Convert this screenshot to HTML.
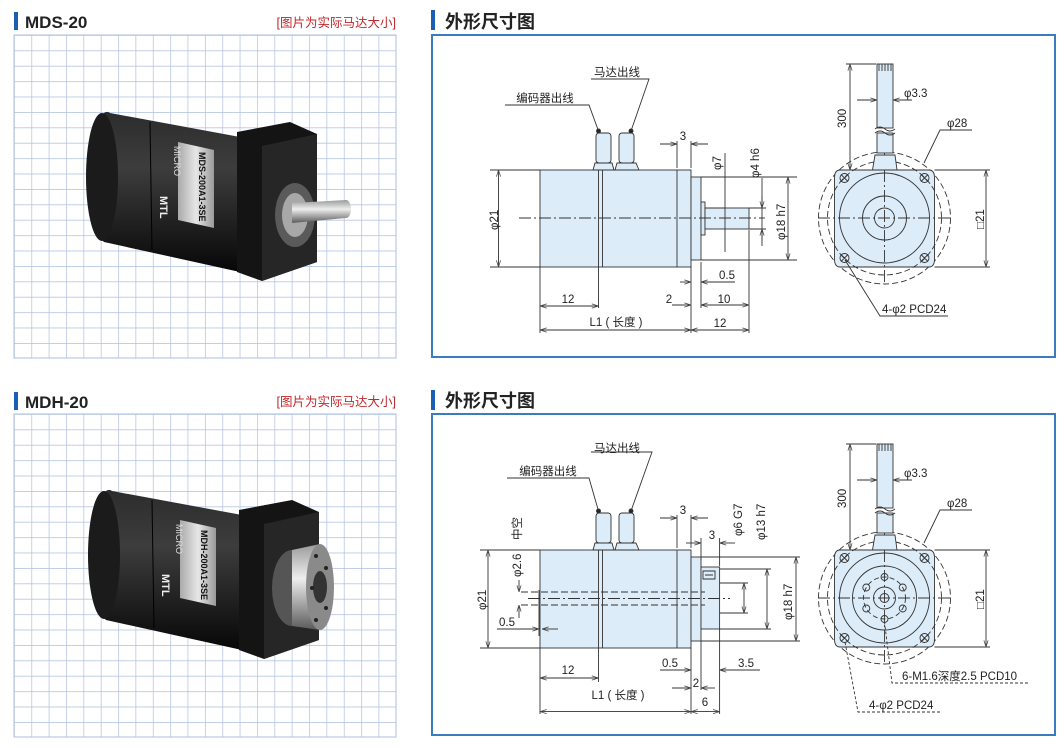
<!DOCTYPE html>
<html><head><meta charset="utf-8"><style>
html,body{margin:0;padding:0;background:#fff;}
svg{display:block;font-family:"Liberation Sans","Noto Sans CJK SC",sans-serif;}
</style></head><body>
<svg width="1064" height="748" viewBox="0 0 1064 748" xmlns="http://www.w3.org/2000/svg">
<defs>
<marker id="a" viewBox="0 0 8 6" refX="8" refY="3" markerWidth="7" markerHeight="5" orient="auto-start-reverse" markerUnits="userSpaceOnUse"><path d="M0,0.5 L8,3 L0,5.5" fill="none" stroke="#444" stroke-width="0.9"/></marker>
<pattern id="grid" x="14" y="35" width="17.36" height="15.4" patternUnits="userSpaceOnUse"><path d="M0,0 H17.36 M0,0 V15.4" stroke="#aebfe0" stroke-width="1.4" fill="none"/></pattern>
<pattern id="grid2" x="14" y="414" width="17.36" height="15.4" patternUnits="userSpaceOnUse"><path d="M0,0 H17.36 M0,0 V15.4" stroke="#aebfe0" stroke-width="1.4" fill="none"/></pattern>
<linearGradient id="blk" x1="0" y1="0" x2="0" y2="1"><stop offset="0" stop-color="#2c2c2c"/><stop offset="0.35" stop-color="#3d3d3d"/><stop offset="1" stop-color="#070707"/></linearGradient>
<linearGradient id="sil" x1="0" y1="0" x2="0" y2="1"><stop offset="0" stop-color="#9a9a9a"/><stop offset="0.4" stop-color="#eeeeee"/><stop offset="1" stop-color="#5a5a5a"/></linearGradient>
<linearGradient id="lab" x1="0" y1="0" x2="1" y2="0"><stop offset="0" stop-color="#aaa"/><stop offset="0.5" stop-color="#e6e6e6"/><stop offset="1" stop-color="#999"/></linearGradient>
</defs>

<rect x="14" y="12" width="4" height="18" fill="#1a5fb4"/>
<text x="25" y="28" font-size="17" font-weight="bold" fill="#222">MDS-20</text>
<text x="396" y="27" font-size="12.5" fill="#c0282d" text-anchor="end">[图片为实际马达大小]</text>
<rect x="14" y="35" width="382" height="323" fill="url(#grid)" stroke="#aebfe0"/>

<rect x="14" y="392" width="4" height="18" fill="#1a5fb4"/>
<text x="25" y="408" font-size="17" font-weight="bold" fill="#222">MDH-20</text>
<text x="396" y="406" font-size="12.5" fill="#c0282d" text-anchor="end">[图片为实际马达大小]</text>
<rect x="14" y="414" width="382" height="323" fill="url(#grid2)" stroke="#aebfe0"/>

<g>
<path d="M110,113 L240,137 L240,272 L104,242 A16,65 0 0 1 110,113 Z" fill="url(#blk)"/>
<ellipse cx="102" cy="177" rx="16" ry="64" fill="#1b1b1b"/>
<path d="M150,122 L152,250" stroke="#000" stroke-width="1"/>
<path d="M178,142 L214,150 L214,228 L178,220 Z" fill="url(#lab)"/>
<text transform="translate(199,152) rotate(90)" font-size="9" font-weight="bold" fill="#111">MDS-200A1-3SE</text>
<text transform="translate(174,146) rotate(90)" font-size="9" fill="#ddd">MICRO</text>
<text transform="translate(160,196) rotate(90)" font-size="11" font-weight="bold" fill="#eee">MTL</text>
<path d="M237,132 L290,122 L317,134 L317,262 L262,281 L237,272 Z" fill="#141414"/>
<path d="M262,146 L317,134 L317,262 L262,281 Z" fill="#262626"/>
<ellipse cx="295" cy="215" rx="20" ry="32" fill="#5a5a5a"/>
<ellipse cx="295" cy="215" rx="13" ry="22" fill="#a8a8a8"/>
<path d="M292,203 L346,200 A5,9 0 0 1 346,218 L292,223 Z" fill="url(#sil)"/>
</g>
<g transform="translate(2,378)">
<path d="M110,113 L240,137 L240,272 L104,242 A16,65 0 0 1 110,113 Z" fill="url(#blk)"/>
<ellipse cx="102" cy="177" rx="16" ry="64" fill="#1b1b1b"/>
<path d="M150,122 L152,250" stroke="#000" stroke-width="1"/>
<path d="M178,142 L214,150 L214,228 L178,220 Z" fill="url(#lab)"/>
<text transform="translate(199,152) rotate(90)" font-size="9" font-weight="bold" fill="#111">MDH-200A1-3SE</text>
<text transform="translate(174,146) rotate(90)" font-size="9" fill="#ddd">MICRO</text>
<text transform="translate(160,196) rotate(90)" font-size="11" font-weight="bold" fill="#eee">MTL</text>
<path d="M237,132 L290,122 L317,134 L317,262 L262,281 L237,272 Z" fill="#141414"/>
<path d="M262,146 L317,134 L317,262 L262,281 Z" fill="#262626"/>
<ellipse cx="290" cy="210" rx="20" ry="38" fill="#555"/>
<path d="M290,172 L318,166 L318,252 L290,248 Z" fill="url(#sil)"/>
<ellipse cx="318" cy="209" rx="14" ry="43" fill="#8a8a8a"/>
<ellipse cx="318" cy="209" rx="7" ry="16" fill="#333"/>
<circle cx="314" cy="178" r="2" fill="#222"/><circle cx="324" cy="190" r="2" fill="#222"/><circle cx="324" cy="230" r="2" fill="#222"/><circle cx="314" cy="242" r="2" fill="#222"/><circle cx="310" cy="210" r="2" fill="#222"/>
</g>

<rect x="431" y="10" width="4" height="20" fill="#1a5fb4"/>
<text x="445" y="28" font-size="18" font-weight="bold" fill="#222">外形尺寸图</text>
<rect x="432" y="35" width="623" height="322" fill="#fff" stroke="#3a7cc0" stroke-width="2"/>
<rect x="431" y="390" width="4" height="20" fill="#1a5fb4"/>
<text x="445" y="407" font-size="18" font-weight="bold" fill="#222">外形尺寸图</text>
<rect x="432" y="414" width="623" height="321" fill="#fff" stroke="#3a7cc0" stroke-width="2"/>

<g stroke="#333" stroke-width="0.9" fill="none" font-size="11">
<rect x="540" y="170" width="151" height="97" fill="#dcecf8"/>
<line x1="598.5" y1="170" x2="598.5" y2="267"/><line x1="602.5" y1="170" x2="602.5" y2="267"/>
<line x1="677" y1="170" x2="677" y2="267"/>
<rect x="691" y="177" width="10" height="83" fill="#dcecf8"/>
<rect x="701" y="202" width="4" height="33" fill="#dcecf8"/>
<rect x="705" y="208" width="44" height="21" fill="#dcecf8"/>
<line x1="519" y1="218" x2="765" y2="218" stroke-dasharray="12 3 2 3"/>
<path d="M593,170 L595,163 L612,163 L614,170 Z" fill="#dcecf8"/>
<rect x="596" y="133" width="15" height="30" rx="3" fill="#dcecf8"/>
<path d="M615,170 L617,163 L636,163 L639,170 Z" fill="#dcecf8"/>
<rect x="619" y="133" width="15" height="30" rx="3" fill="#dcecf8"/>
<circle cx="598.5" cy="131" r="2" fill="#222"/><circle cx="631" cy="131" r="2" fill="#222"/>
<path d="M591,79 L649,79 L631,131"/><path d="M505,105 L589,105 L598.5,131"/>
<line x1="677" y1="141" x2="677" y2="168"/><line x1="691" y1="141" x2="691" y2="168"/>
<line x1="660" y1="144" x2="677" y2="144" marker-end="url(#a)"/><line x1="708" y1="144" x2="691" y2="144" marker-end="url(#a)"/>
<line x1="725" y1="153" x2="725" y2="252"/>
<line x1="705" y1="208" x2="725" y2="208"/>
<line x1="762" y1="178" x2="762" y2="246"/>
<line x1="749" y1="208" x2="766" y2="208"/><line x1="749" y1="229" x2="766" y2="229"/>
<line x1="762" y1="196" x2="762" y2="208" marker-end="url(#a)"/><line x1="762" y1="241" x2="762" y2="229" marker-end="url(#a)"/>
<line x1="701" y1="177" x2="797" y2="177"/><line x1="701" y1="260" x2="797" y2="260"/>
<line x1="788" y1="177" x2="788" y2="260" marker-start="url(#a)" marker-end="url(#a)"/>
<line x1="490" y1="170" x2="540" y2="170"/><line x1="490" y1="267" x2="540" y2="267"/>
<line x1="498.5" y1="170" x2="498.5" y2="267" marker-start="url(#a)" marker-end="url(#a)"/>
<line x1="540" y1="267" x2="540" y2="333"/><line x1="598.5" y1="267" x2="598.5" y2="308"/>
<line x1="691" y1="267" x2="691" y2="333"/><line x1="701" y1="262" x2="701" y2="308"/><line x1="749" y1="230" x2="749" y2="333"/>
<line x1="540" y1="306" x2="598.5" y2="306" marker-start="url(#a)" marker-end="url(#a)"/>
<line x1="540" y1="330" x2="691" y2="330" marker-start="url(#a)" marker-end="url(#a)"/>
<line x1="691" y1="330" x2="749" y2="330" marker-start="url(#a)" marker-end="url(#a)"/>
<line x1="701" y1="305" x2="749" y2="305" marker-start="url(#a)" marker-end="url(#a)"/>
<line x1="672" y1="305" x2="691" y2="305" marker-end="url(#a)"/>
<line x1="680" y1="282" x2="691" y2="282" marker-end="url(#a)"/><line x1="735" y1="282" x2="701" y2="282" marker-end="url(#a)"/>

<circle cx="884.5" cy="218" r="66" stroke-dasharray="6 3"/>
<path d="M840,170 L929,170 Q934.5,170 934.5,178 L934.5,259 Q934.5,267 929,267 L840,267 Q834.5,267 834.5,259 L834.5,178 Q834.5,170 840,170 Z" fill="#dcecf8"/>
<circle cx="884.5" cy="218" r="57" stroke-dasharray="6 3"/>
<circle cx="884.5" cy="218" r="45"/>
<circle cx="884.5" cy="218" r="22"/><circle cx="884.5" cy="218" r="10"/>
<line x1="818" y1="218" x2="951" y2="218" stroke-dasharray="12 3 2 3"/>
<line x1="884.5" y1="150" x2="884.5" y2="285" stroke-dasharray="12 3 2 3"/>
<circle cx="844.5" cy="178" r="4.5"/><circle cx="924.5" cy="178" r="4.5"/><circle cx="844.5" cy="258" r="4.5"/><circle cx="924.5" cy="258" r="4.5"/>
<path d="M841,174.5 l7,7 M848,174.5 l-7,7 M921,174.5 l7,7 M928,174.5 l-7,7 M841,254.5 l7,7 M848,254.5 l-7,7 M921,254.5 l7,7 M928,254.5 l-7,7"/>
<rect x="877" y="64" width="16" height="64" fill="#dcecf8"/>
<rect x="877" y="133" width="16" height="20" fill="#dcecf8"/>
<path d="M879,64 V71 M882,64 V71 M885,64 V71 M888,64 V71 M891,64 V71"/>
<path d="M875,129 q5,-4 10,0 t10,0 M875,133 q5,-4 10,0 t10,0"/>
<path d="M872.5,170 L875,155 L895,155 L897,170 Z" fill="#dcecf8"/>
<line x1="846" y1="64" x2="876" y2="64"/>
<line x1="850" y1="64" x2="850" y2="170" marker-start="url(#a)" marker-end="url(#a)"/>
<line x1="857" y1="100" x2="877" y2="100" marker-end="url(#a)"/><line x1="912" y1="100" x2="893" y2="100" marker-end="url(#a)"/>
<path d="M972,130 L940,130 L924,163"/>
<line x1="934.5" y1="170" x2="990" y2="170"/><line x1="934.5" y1="267" x2="990" y2="267"/>
<line x1="986" y1="170" x2="986" y2="267" marker-start="url(#a)" marker-end="url(#a)"/>
<path d="M948,316 L880,316 L845,260"/>

<rect x="540" y="550" width="151" height="98" fill="#dcecf8"/>
<line x1="598.5" y1="550" x2="598.5" y2="648"/><line x1="602.5" y1="550" x2="602.5" y2="648"/>
<line x1="677" y1="550" x2="677" y2="648"/>
<rect x="691" y="557" width="10" height="84" fill="#dcecf8"/>
<rect x="701" y="567" width="18.6" height="62" fill="#dcecf8"/>
<path d="M703,571 h12 v8 h-12 z M705,575 h8"/>
<line x1="521" y1="592" x2="705" y2="592" stroke-dasharray="7 3"/><line x1="521" y1="605" x2="705" y2="605" stroke-dasharray="7 3"/>
<line x1="528" y1="598.5" x2="730" y2="598.5" stroke-dasharray="12 3 2 3"/>
<line x1="719.6" y1="583" x2="748" y2="583"/><line x1="719.6" y1="613" x2="748" y2="613"/>
<line x1="744" y1="583" x2="744" y2="613" marker-start="url(#a)" marker-end="url(#a)"/>
<line x1="719.6" y1="569" x2="771" y2="569"/><line x1="719.6" y1="629" x2="771" y2="629"/>
<line x1="767" y1="569" x2="767" y2="629" marker-start="url(#a)" marker-end="url(#a)"/>
<line x1="701" y1="557" x2="800" y2="557"/><line x1="701" y1="641" x2="800" y2="641"/>
<line x1="796" y1="557" x2="796" y2="641" marker-start="url(#a)" marker-end="url(#a)"/>
<line x1="480" y1="550" x2="540" y2="550"/><line x1="480" y1="648" x2="540" y2="648"/>
<line x1="488" y1="550" x2="488" y2="648" marker-start="url(#a)" marker-end="url(#a)"/>
<line x1="519" y1="580" x2="519" y2="592" marker-end="url(#a)"/><line x1="519" y1="618" x2="519" y2="605" marker-end="url(#a)"/>
<line x1="539" y1="590" x2="539" y2="636"/>
<line x1="497" y1="629" x2="539" y2="629" marker-end="url(#a)"/><line x1="558" y1="629" x2="542" y2="629" marker-end="url(#a)"/>
<path d="M593,550 L595,543 L612,543 L614,550 Z" fill="#dcecf8"/>
<rect x="596" y="513" width="15" height="30" rx="3" fill="#dcecf8"/>
<path d="M615,550 L617,543 L636,543 L639,550 Z" fill="#dcecf8"/>
<rect x="619" y="513" width="15" height="30" rx="3" fill="#dcecf8"/>
<circle cx="598.5" cy="511" r="2" fill="#222"/><circle cx="631" cy="511" r="2" fill="#222"/>
<path d="M591,452 L652,452 L631,511"/><path d="M507,478 L589,478 L598.5,511"/>
<line x1="677" y1="515" x2="677" y2="548"/><line x1="691" y1="515" x2="691" y2="548"/>
<line x1="660" y1="518" x2="677" y2="518" marker-end="url(#a)"/><line x1="708" y1="518" x2="691" y2="518" marker-end="url(#a)"/>
<line x1="701" y1="538" x2="701" y2="560"/><line x1="719.6" y1="538" x2="719.6" y2="566"/>
<line x1="686" y1="543" x2="701" y2="543" marker-end="url(#a)"/><line x1="735" y1="543" x2="719.6" y2="543" marker-end="url(#a)"/>
<line x1="540" y1="648" x2="540" y2="714"/><line x1="598.5" y1="648" x2="598.5" y2="682"/>
<line x1="691" y1="648" x2="691" y2="714"/><line x1="701" y1="641" x2="701" y2="690"/><line x1="719.6" y1="629" x2="719.6" y2="714"/>
<line x1="540" y1="678" x2="598.5" y2="678" marker-start="url(#a)" marker-end="url(#a)"/>
<line x1="540" y1="711.6" x2="691" y2="711.6" marker-start="url(#a)" marker-end="url(#a)"/>
<line x1="691" y1="711.6" x2="719.6" y2="711.6" marker-start="url(#a)" marker-end="url(#a)"/>
<line x1="660" y1="670" x2="691" y2="670" marker-end="url(#a)"/><line x1="760" y1="670" x2="719.6" y2="670" marker-end="url(#a)"/>
<line x1="672" y1="688" x2="691" y2="688" marker-end="url(#a)"/><line x1="715" y1="688" x2="701" y2="688" marker-end="url(#a)"/>

<g transform="translate(0,380)">
<circle cx="884.5" cy="218" r="66" stroke-dasharray="6 3"/>
<path d="M840,170 L929,170 Q934.5,170 934.5,178 L934.5,259 Q934.5,267 929,267 L840,267 Q834.5,267 834.5,259 L834.5,178 Q834.5,170 840,170 Z" fill="#dcecf8"/>
<circle cx="884.5" cy="218" r="57" stroke-dasharray="6 3"/>
<circle cx="884.5" cy="218" r="45"/>
<circle cx="884.5" cy="218" r="32"/>
<circle cx="884.5" cy="218" r="21" stroke-dasharray="5 3"/>
<circle cx="884.5" cy="218" r="11"/><circle cx="884.5" cy="218" r="4.5"/>
<line x1="818" y1="218" x2="951" y2="218" stroke-dasharray="12 3 2 3"/>
<line x1="884.5" y1="150" x2="884.5" y2="285" stroke-dasharray="12 3 2 3"/>
<circle cx="884.5" cy="197" r="3.5"/><circle cx="884.5" cy="239" r="3.5"/>
<circle cx="866.3" cy="207.5" r="3.5"/><circle cx="902.7" cy="207.5" r="3.5"/>
<circle cx="866.3" cy="228.5" r="3.5"/><circle cx="902.7" cy="228.5" r="3.5"/>
<circle cx="844.5" cy="178" r="4.5"/><circle cx="924.5" cy="178" r="4.5"/><circle cx="844.5" cy="258" r="4.5"/><circle cx="924.5" cy="258" r="4.5"/>
<path d="M841,174.5 l7,7 M848,174.5 l-7,7 M921,174.5 l7,7 M928,174.5 l-7,7 M841,254.5 l7,7 M848,254.5 l-7,7 M921,254.5 l7,7 M928,254.5 l-7,7"/>
<rect x="877" y="64" width="16" height="64" fill="#dcecf8"/>
<rect x="877" y="133" width="16" height="20" fill="#dcecf8"/>
<path d="M879,64 V71 M882,64 V71 M885,64 V71 M888,64 V71 M891,64 V71"/>
<path d="M875,129 q5,-4 10,0 t10,0 M875,133 q5,-4 10,0 t10,0"/>
<path d="M872.5,170 L875,155 L895,155 L897,170 Z" fill="#dcecf8"/>
<line x1="846" y1="64" x2="876" y2="64"/>
<line x1="850" y1="64" x2="850" y2="170" marker-start="url(#a)" marker-end="url(#a)"/>
<line x1="857" y1="100" x2="877" y2="100" marker-end="url(#a)"/><line x1="912" y1="100" x2="893" y2="100" marker-end="url(#a)"/>
<path d="M972,130 L940,130 L924,163"/>
<line x1="934.5" y1="170" x2="990" y2="170"/><line x1="934.5" y1="267" x2="990" y2="267"/>
<line x1="986" y1="170" x2="986" y2="267" marker-start="url(#a)" marker-end="url(#a)"/>
<path d="M1028,303 L892,303 L884.5,242" stroke-dasharray="3 2"/>
<path d="M940,332 L858,332 L845,262" stroke-dasharray="3 2"/>
</g>
</g>

<g font-size="11.5" fill="#222" stroke="none">
<text x="617" y="76" text-anchor="middle">马达出线</text>
<text x="545" y="102" text-anchor="middle">编码器出线</text>
<text x="683" y="140" text-anchor="middle">3</text>
<text transform="translate(721,170) rotate(-90)">φ7</text>
<text transform="translate(759,178) rotate(-90)">φ4 h6</text>
<text transform="translate(785,240) rotate(-90)">φ18 h7</text>
<text transform="translate(498,230) rotate(-90)">φ21</text>
<text x="568" y="303" text-anchor="middle">12</text>
<text x="616" y="326" text-anchor="middle">L1 ( 长度 )</text>
<text x="669" y="303" text-anchor="middle">2</text>
<text x="724" y="303" text-anchor="middle">10</text>
<text x="727" y="279" text-anchor="middle">0.5</text>
<text x="720" y="327" text-anchor="middle">12</text>
<text transform="translate(846,128) rotate(-90)">300</text>
<text x="904" y="97">φ3.3</text>
<text x="947" y="127">φ28</text>
<text transform="translate(984,229) rotate(-90)">□21</text>
<text x="882" y="313">4-φ2 PCD24</text>

<text x="617" y="452" text-anchor="middle">马达出线</text>
<text x="548" y="475" text-anchor="middle">编码器出线</text>
<text x="683" y="514" text-anchor="middle">3</text>
<text x="712" y="539" text-anchor="middle">3</text>
<text transform="translate(742,536) rotate(-90)">φ6 G7</text>
<text transform="translate(765,540) rotate(-90)">φ13 h7</text>
<text transform="translate(792,620) rotate(-90)">φ18 h7</text>
<text transform="translate(486,610) rotate(-90)">φ21</text>
<text transform="translate(521,577) rotate(-90)">φ2.6</text>
<text transform="translate(521,540) rotate(-90)">中空</text>
<text x="507" y="626" text-anchor="middle">0.5</text>
<text x="568" y="674" text-anchor="middle">12</text>
<text x="618" y="699" text-anchor="middle">L1 ( 长度 )</text>
<text x="670" y="667" text-anchor="middle">0.5</text>
<text x="746" y="667" text-anchor="middle">3.5</text>
<text x="696" y="687" text-anchor="middle">2</text>
<text x="705" y="706" text-anchor="middle">6</text>
<text transform="translate(846,508) rotate(-90)">300</text>
<text x="904" y="477">φ3.3</text>
<text x="947" y="507">φ28</text>
<text transform="translate(984,609) rotate(-90)">□21</text>
<text x="902" y="680">6-M1.6深度2.5 PCD10</text>
<text x="869" y="709">4-φ2 PCD24</text>
</g>
</svg>
</body></html>
